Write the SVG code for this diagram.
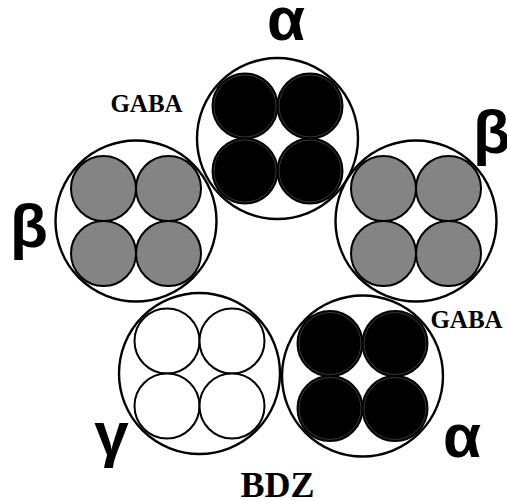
<svg xmlns="http://www.w3.org/2000/svg" width="507" height="500" viewBox="0 0 507 500">
<style>
.outer{fill:#fff;stroke:#000;stroke-width:2.4}
.blk{fill:#000;stroke:#000;stroke-width:2}
.ring{fill:none;stroke:#5a5a5a;stroke-width:0.6}
.gry{fill:#848484;stroke:#000;stroke-width:2}
.wht{fill:#fff;stroke:#000;stroke-width:2}
.greek{font-family:"Liberation Sans",Arial,sans-serif;font-weight:bold;font-size:62px;text-anchor:middle;fill:#000}
.lbl{font-family:"Liberation Serif","Times New Roman",serif;font-weight:bold;text-anchor:middle;fill:#000}
</style>
<rect width="507" height="500" fill="#fff"/>
<g id="alpha-top">
<circle class="outer" cx="277.5" cy="138.5" r="80.5"/>
<circle class="blk" cx="245" cy="106" r="32.5"/>
<circle class="blk" cx="310" cy="106" r="32.5"/>
<circle class="blk" cx="245" cy="171" r="32.5"/>
<circle class="blk" cx="310" cy="171" r="32.5"/>
<circle class="ring" cx="245" cy="106" r="31"/>
<circle class="ring" cx="310" cy="106" r="31"/>
<circle class="ring" cx="245" cy="171" r="31"/>
<circle class="ring" cx="310" cy="171" r="31"/>
</g>
<g id="beta-left">
<circle class="outer" cx="136" cy="221" r="80.5"/>
<circle class="gry" cx="103.5" cy="188.5" r="32.5"/>
<circle class="gry" cx="168.5" cy="188.5" r="32.5"/>
<circle class="gry" cx="103.5" cy="253.5" r="32.5"/>
<circle class="gry" cx="168.5" cy="253.5" r="32.5"/>
</g>
<g id="beta-right">
<circle class="outer" cx="416" cy="221" r="80.5"/>
<circle class="gry" cx="383.5" cy="188.5" r="32.5"/>
<circle class="gry" cx="448.5" cy="188.5" r="32.5"/>
<circle class="gry" cx="383.5" cy="253.5" r="32.5"/>
<circle class="gry" cx="448.5" cy="253.5" r="32.5"/>
</g>
<g id="gamma">
<circle class="outer" cx="199.5" cy="373.5" r="80.5"/>
<circle class="wht" cx="167" cy="341" r="32.5"/>
<circle class="wht" cx="232" cy="341" r="32.5"/>
<circle class="wht" cx="167" cy="406" r="32.5"/>
<circle class="wht" cx="232" cy="406" r="32.5"/>
</g>
<g id="alpha-bottom">
<circle class="outer" cx="362.5" cy="376" r="80.5"/>
<circle class="blk" cx="330" cy="343.5" r="32.5"/>
<circle class="blk" cx="395" cy="343.5" r="32.5"/>
<circle class="blk" cx="330" cy="408.5" r="32.5"/>
<circle class="blk" cx="395" cy="408.5" r="32.5"/>
<circle class="ring" cx="330" cy="343.5" r="31"/>
<circle class="ring" cx="395" cy="343.5" r="31"/>
<circle class="ring" cx="330" cy="408.5" r="31"/>
<circle class="ring" cx="395" cy="408.5" r="31"/>
</g>
<g id="labels">
<text class="greek" x="286" y="40">α</text>
<text class="greek" x="492" y="153">β</text>
<text class="greek" x="29" y="247">β</text>
<text class="greek" x="111.5" y="455">γ</text>
<text class="greek" x="462" y="457">α</text>
<text class="lbl" x="146.5" y="112" font-size="25">GABA</text>
<text class="lbl" x="466.5" y="328" font-size="25">GABA</text>
<text class="lbl" x="277.5" y="497" font-size="36">BDZ</text>
</g>
<g id="connectors"/>
</svg>
